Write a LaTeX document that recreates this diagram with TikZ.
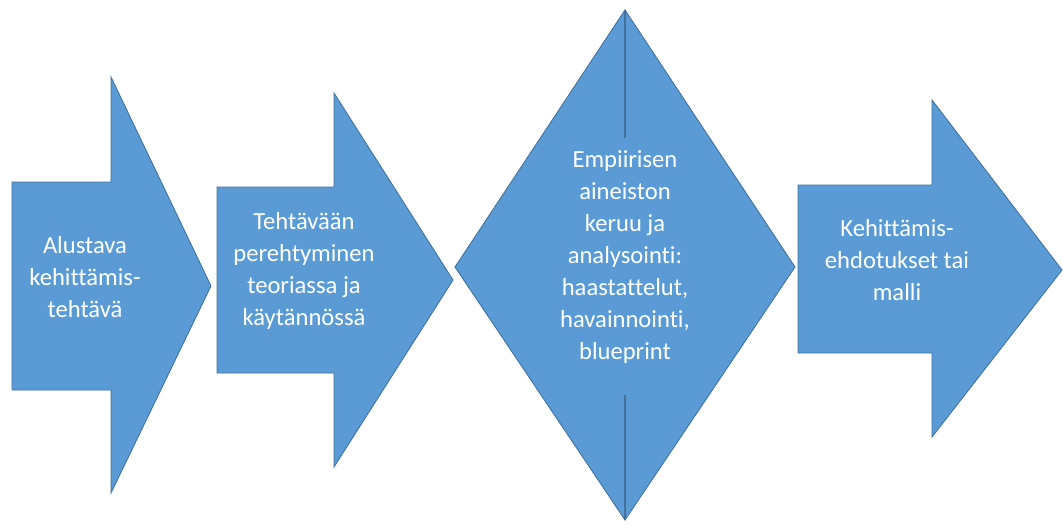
\documentclass[tikz,border=0pt]{standalone}
\usepackage{fontspec}
\setmainfont{Carlito}[Ligatures=NoCommon]
\definecolor{stepblue}{HTML}{5B9BD5}
\definecolor{stepedge}{HTML}{41719C}
\tikzset{
  stepshape/.style={fill=stepblue, draw=stepedge, line width=0.5pt, line join=miter},
  steptext/.style={text=white, align=center, font=\fontsize{14}{18.2}\selectfont}
}
\begin{document}
\begin{tikzpicture}[x=0.02cm,y=-0.02cm]
\useasboundingbox (0,0) rectangle (1063,531);
% arrows and the diamond, in pixel units
\draw[stepshape] (12,182) -- (111,182) -- (111,77) -- (211,286) -- (111,493) -- (111,390) -- (12,390) -- cycle;
\draw[stepshape] (217,187) -- (334,187) -- (334,93) -- (453,280) -- (334,467) -- (334,373) -- (217,373) -- cycle;
\draw[stepshape] (625,10) -- (795,267) -- (625,520) -- (455,267) -- cycle;
\draw[stepedge, line width=0.8pt] (625,10) -- (625,138);
\draw[stepedge, line width=0.8pt] (625,395) -- (625,520);
\draw[stepshape] (798,185) -- (932,185) -- (932,100) -- (1062,270) -- (932,437) -- (932,353) -- (798,353) -- cycle;
% texts
\node[steptext] (alku) at (85,277) {Alustava\\kehittämis-\\tehtävä};
\node[steptext] (teoria) at (304,271) {Tehtävään\\perehtyminen\\teoriassa ja\\käytännössä};
\node[steptext] (empiria) at (625,257) {Empiirisen\\aineiston\\keruu ja\\analysointi:\\haastattelut,\\havainnointi,\\blueprint};
\node[steptext] (malli) at (897,260) {Kehittämis-\\ehdotukset tai\\malli};
\end{tikzpicture}
\end{document}
